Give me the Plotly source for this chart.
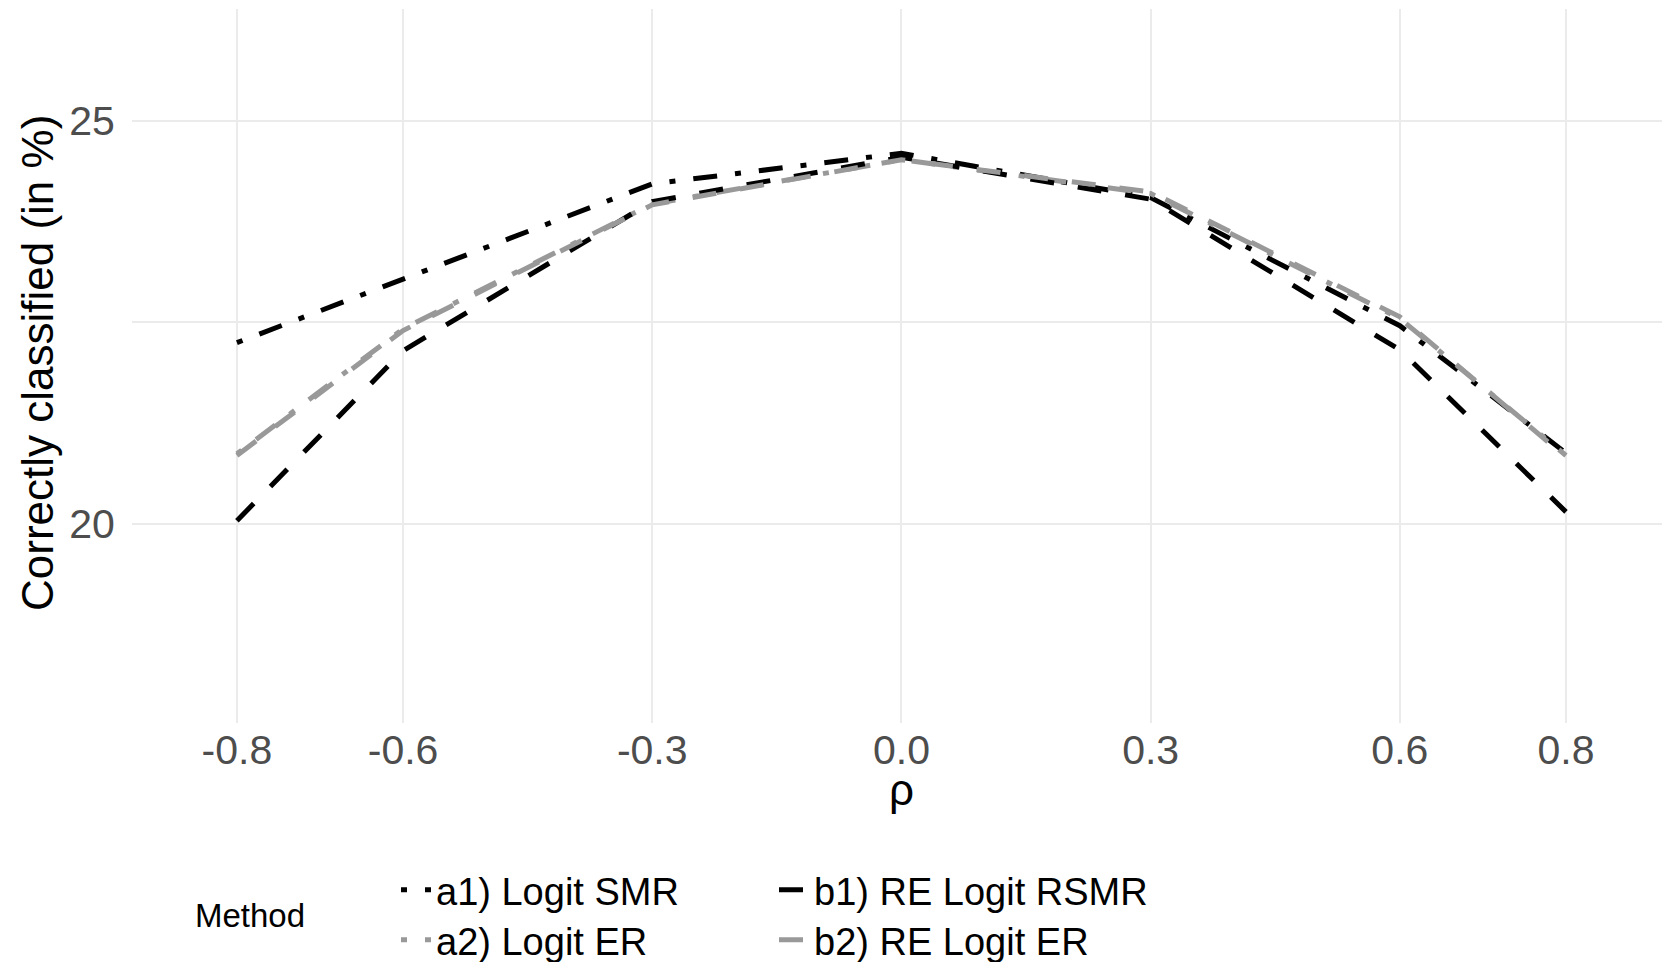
import plotly.graph_objects as go

rho = [-0.8, -0.6, -0.3, 0.0, 0.3, 0.6, 0.8]
rho_labels = ["-0.8", "-0.6", "-0.3", "0.0", "0.3", "0.6", "0.8"]

a1_logit_smr = [22.25, 23.04, 24.22, 24.60, 24.05, 22.46, 20.88]
a2_logit_er = [20.87, 22.42, 23.97, 24.52, 24.10, 22.55, 20.85]
b1_re_logit_rsmr = [20.04, 22.15, 24.00, 24.55, 24.03, 22.16, 20.15]
b2_re_logit_er = [20.85, 22.40, 23.96, 24.52, 24.12, 22.57, 20.83]

y_ticks = [20, 22.5, 25]
y_ticktext = ["20", "", "25"]

BLACK = "#000000"
GREY = "#999999"
DOTDASH = "6px,18px,24px,18px"
DASHED = "24px,24px"
FONT = "Liberation Sans, Arial, sans-serif"

fig = go.Figure()
series = [
    ("a1) Logit SMR", a1_logit_smr, BLACK, DOTDASH, "legend"),
    ("a2) Logit ER", a2_logit_er, GREY, DOTDASH, "legend2"),
    ("b1) RE Logit RSMR", b1_re_logit_rsmr, BLACK, DASHED, "legend"),
    ("b2) RE Logit ER", b2_re_logit_er, GREY, DASHED, "legend2"),
]
for name, vals, col, dash, leg in series:
    fig.add_trace(go.Scatter(
        x=rho, y=vals, mode="lines", name=name,
        line=dict(color=col, width=5, dash=dash),
        legend=leg,
    ))

W, H = 1662, 962
ML, MR, MT, MB = 132, 0, 9, 239
PW = W - ML - MR
PH = H - MT - MB

def px(X):
    return (X - ML) / PW

def py(Y):
    return (H - MB - Y) / PH

leg_common = dict(
    orientation="h", xanchor="left", yanchor="middle",
    font=dict(family=FONT, size=38, color="black"),
    entrywidth=333, entrywidthmode="pixels",
    bgcolor="rgba(0,0,0,0)", traceorder="normal",
)

fig.update_layout(
    width=W, height=H,
    margin=dict(l=ML, r=MR, t=MT, b=MB, autoexpand=False),
    plot_bgcolor="white", paper_bgcolor="white",
    font=dict(family=FONT),
    showlegend=True,
    legend=dict(x=px(396), y=py(890), **leg_common),
    legend2=dict(x=px(396), y=py(940), **leg_common),
    xaxis=dict(
        range=[-0.9263, 0.9156], tickvals=rho, ticktext=rho_labels,
        showgrid=True, gridcolor="#EBEBEB", gridwidth=2,
        zeroline=False, showline=False,
        ticks="", ticklabelstandoff=-1,
        tickfont=dict(family=FONT, size=41, color="#4D4D4D"),
    ),
    yaxis=dict(
        range=[17.53, 26.39], tickvals=y_ticks, ticktext=y_ticktext,
        showgrid=True, gridcolor="#EBEBEB", gridwidth=2,
        zeroline=False, showline=False,
        ticks="outside", ticklen=8, tickcolor="rgba(0,0,0,0)",
        tickfont=dict(family=FONT, size=41, color="#4D4D4D"),
    ),
    annotations=[
        dict(text="Correctly classified (in %)", x=px(37), y=py(363),
             xref="paper", yref="paper", showarrow=False, textangle=-90,
             xanchor="center", yanchor="middle",
             font=dict(family=FONT, size=44, color="black")),
        dict(text="ρ", x=px(901), y=py(789), xref="paper", yref="paper",
             showarrow=False, xanchor="center", yanchor="middle",
             font=dict(family=FONT, size=44, color="black")),
        dict(text="Method", x=px(250), y=py(915), xref="paper", yref="paper",
             showarrow=False, xanchor="center", yanchor="middle",
             font=dict(family=FONT, size=33, color="black")),
    ],
)

fig.write_html("out.html")
